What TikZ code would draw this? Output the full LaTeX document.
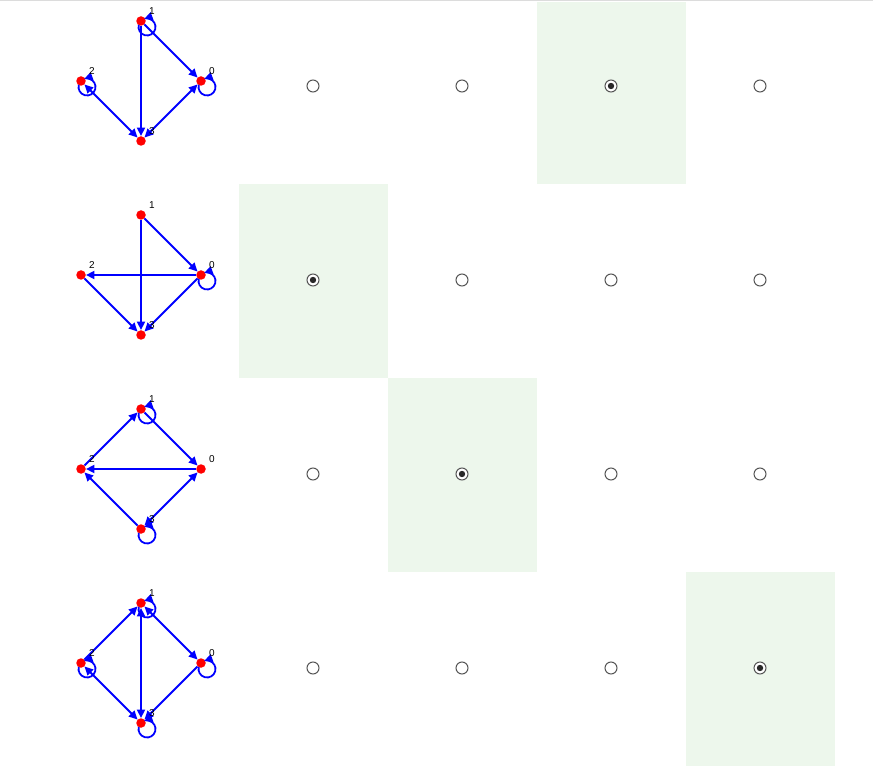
\documentclass[tikz,border=0pt]{standalone}
\usepackage{fontspec}
\setmainfont{Liberation Sans}
\usetikzlibrary{arrows.meta,calc}
\definecolor{selbg}{RGB}{237,247,236}
\definecolor{radiogray}{RGB}{85,85,85}
\definecolor{radiodark}{RGB}{40,40,40}
\definecolor{topline}{RGB}{220,220,220}
\newcommand\vloop[1]{\draw[edge] ($(#1)+(6,-6)+(165:8.5)$) arc[start angle=165,end angle=470,radius=8.5];}
\begin{document}
\begin{tikzpicture}[x=1pt,y=1pt,
  vtx/.style={circle,fill=red,inner sep=0,minimum size=9.5pt},
  lbl/.style={font=\fontsize{10}{11}\selectfont,inner sep=0},
  edge/.style={draw=blue,line width=1.8pt,-{Triangle[length=8.5pt,width=8pt]}},
  biedge/.style={draw=blue,line width=1.8pt,{Triangle[length=8.5pt,width=8pt]}-{Triangle[length=8.5pt,width=8pt]}},
  radio/.style={circle,draw=radiogray,fill=white,line width=1pt,minimum size=12pt,inner sep=0}]
\useasboundingbox (0,0) rectangle (873,-775);
% selected cell backgrounds
\fill[selbg] (537,-2) rectangle (686,-184);
\fill[selbg] (239,-184) rectangle (388,-378);
\fill[selbg] (388,-378) rectangle (537,-572);
\fill[selbg] (686,-572) rectangle (835,-766);
\draw[topline,line width=1pt] (0,-0.5) -- (873,-0.5);
% vertices
\foreach \g in {1,2,3,4}{
  \pgfmathsetmacro\oy{194*(\g-1)}
  \node[vtx] (g\g n1) at (141,-21-\oy) {};
  \node[vtx] (g\g n2) at (81,-81-\oy) {};
  \node[vtx] (g\g n0) at (201,-81-\oy) {};
  \node[vtx] (g\g n3) at (141,-141-\oy) {};
}
% graph 1
\draw[edge] (g1n1) -- (g1n3);
\draw[edge] (g1n1) -- (g1n0);
\draw[biedge] (g1n3) -- (g1n2);
\draw[biedge] (g1n3) -- (g1n0);
\vloop{g1n1}\vloop{g1n2}\vloop{g1n0}
% graph 2
\draw[edge] (g2n1) -- (g2n0);
\draw[edge] (g2n1) -- (g2n3);
\draw[edge] (g2n0) -- (g2n2);
\draw[edge] (g2n2) -- (g2n3);
\draw[edge] (g2n0) -- (g2n3);
\vloop{g2n0}
% graph 3
\draw[edge] (g3n2) -- (g3n1);
\draw[edge] (g3n1) -- (g3n0);
\draw[edge] (g3n0) -- (g3n2);
\draw[edge] (g3n3) -- (g3n2);
\draw[biedge] (g3n3) -- (g3n0);
\vloop{g3n1}\vloop{g3n3}
% graph 4
\draw[edge] (g4n2) -- (g4n1);
\draw[biedge] (g4n3) -- (g4n1);
\draw[biedge] (g4n1) -- (g4n0);
\draw[biedge] (g4n2) -- (g4n3);
\draw[edge] (g4n0) -- (g4n3);
\vloop{g4n1}\vloop{g4n2}\vloop{g4n0}\vloop{g4n3}
% labels
\foreach \g in {1,2,3,4}{
  \foreach \k in {0,1,2,3}{
    \node[lbl] (g\g l\k) at ($(g\g n\k)+(11,10)$) {\k};
  }
}
% radio buttons
\foreach \r in {1,2,3,4}{
  \foreach \c/\x in {1/313,2/462,3/611,4/760}{
    \node[radio] (r\r c\c) at (\x,{-86-194*(\r-1)}) {};
  }
}
\fill[radiodark] (r1c3.center) circle (3.2);
\fill[radiodark] (r2c1.center) circle (3.2);
\fill[radiodark] (r3c2.center) circle (3.2);
\fill[radiodark] (r4c4.center) circle (3.2);
\end{tikzpicture}
\end{document}
